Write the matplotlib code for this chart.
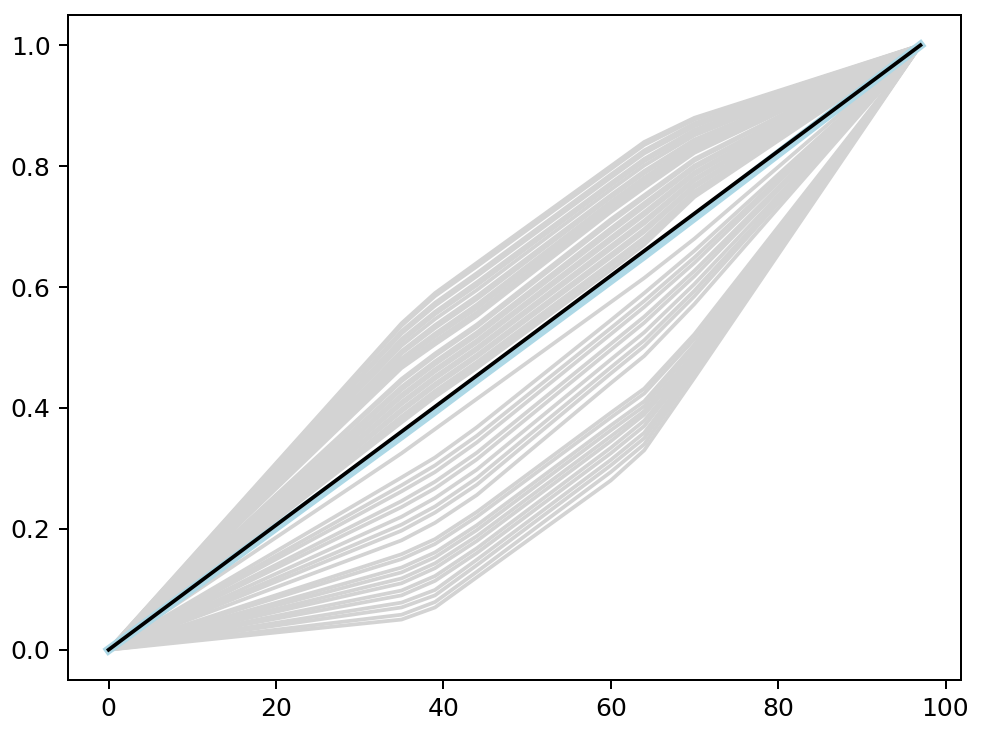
import matplotlib
matplotlib.use("Agg")
import matplotlib.pyplot as plt
import numpy as np

# x positions of the breakpoints shared by all curves
knots = [0, 35, 39, 44, 60, 64, 70, 97]

# y at the interior knots (35, 39, 44, 60, 64, 70); every curve starts at 0 and ends at 1
upper_band = [
    [0.540, 0.590, 0.640, 0.800, 0.840, 0.880],
    [0.536, 0.585, 0.634, 0.795, 0.835, 0.877],
    [0.527, 0.574, 0.623, 0.786, 0.826, 0.871],
    [0.523, 0.569, 0.618, 0.781, 0.821, 0.866],
    [0.514, 0.559, 0.608, 0.772, 0.812, 0.860],
    [0.510, 0.555, 0.603, 0.768, 0.808, 0.856],
    [0.503, 0.547, 0.595, 0.761, 0.801, 0.851],
    [0.494, 0.537, 0.585, 0.752, 0.792, 0.844],
    [0.490, 0.532, 0.580, 0.748, 0.788, 0.841],
    [0.482, 0.523, 0.571, 0.741, 0.781, 0.836],
    [0.477, 0.518, 0.565, 0.736, 0.776, 0.832],
    [0.471, 0.511, 0.558, 0.730, 0.770, 0.827],
    [0.466, 0.505, 0.552, 0.724, 0.764, 0.822],
]
near_diag = [
    [0.448, 0.490, 0.538, 0.712, 0.752, 0.812],
    [0.444, 0.486, 0.534, 0.707, 0.748, 0.809],
    [0.435, 0.477, 0.525, 0.697, 0.739, 0.801],
    [0.430, 0.472, 0.520, 0.691, 0.733, 0.797],
    [0.422, 0.464, 0.512, 0.682, 0.724, 0.790],
    [0.418, 0.460, 0.508, 0.677, 0.719, 0.786],
    [0.410, 0.452, 0.500, 0.668, 0.710, 0.779],
    [0.406, 0.448, 0.496, 0.663, 0.705, 0.776],
    [0.398, 0.440, 0.488, 0.654, 0.696, 0.769],
    [0.394, 0.436, 0.484, 0.649, 0.691, 0.765],
    [0.386, 0.428, 0.476, 0.640, 0.682, 0.758],
    [0.382, 0.424, 0.472, 0.635, 0.677, 0.755],
    [0.376, 0.418, 0.466, 0.628, 0.670, 0.749],
    [0.325, 0.365, 0.415, 0.575, 0.615, 0.680],
]
middle_band = [
    [0.285, 0.318, 0.368, 0.545, 0.590, 0.660],
    [0.272, 0.305, 0.354, 0.532, 0.577, 0.649],
    [0.262, 0.294, 0.343, 0.522, 0.567, 0.640],
    [0.246, 0.278, 0.326, 0.506, 0.551, 0.627],
    [0.236, 0.267, 0.315, 0.496, 0.541, 0.618],
    [0.220, 0.251, 0.298, 0.480, 0.525, 0.605],
    [0.207, 0.237, 0.284, 0.467, 0.512, 0.594],
    [0.197, 0.227, 0.273, 0.457, 0.502, 0.585],
    [0.181, 0.210, 0.256, 0.441, 0.486, 0.572],
]
lower_band = [
    [0.158, 0.183, 0.228, 0.392, 0.432, 0.522],
    [0.150, 0.175, 0.220, 0.384, 0.424, 0.514],
    [0.136, 0.161, 0.206, 0.371, 0.411, 0.505],
    [0.128, 0.153, 0.198, 0.363, 0.403, 0.499],
    [0.118, 0.143, 0.188, 0.353, 0.395, 0.491],
    [0.110, 0.135, 0.180, 0.345, 0.389, 0.485],
    [0.098, 0.122, 0.168, 0.334, 0.379, 0.480],
    [0.090, 0.114, 0.160, 0.325, 0.370, 0.475],
    [0.078, 0.099, 0.149, 0.314, 0.359, 0.469],
    [0.070, 0.090, 0.140, 0.305, 0.350, 0.465],
    [0.058, 0.079, 0.129, 0.294, 0.340, 0.459],
    [0.050, 0.070, 0.120, 0.280, 0.330, 0.450],
]
mean_curve = [0.354, 0.395, 0.447, 0.611, 0.652, 0.715]
diag_x = [0, 97]
diag_y = [0, 1]

fig = plt.figure(figsize=(5.5, 733 / 180), dpi=180)
ax = fig.add_axes([68 / 990, 1 - 680 / 733, 893 / 990, 665 / 733])

for rows in (upper_band, near_diag, middle_band, lower_band):
    for r in rows:
        ax.plot(knots, [0] + r + [1], color='lightgray', lw=1.5)

ax.plot(knots, [0] + mean_curve + [1], color='lightblue', lw=3.5)
ax.plot(diag_x, diag_y, color='black', lw=1.5)

fig.savefig('out.png', dpi=180)
